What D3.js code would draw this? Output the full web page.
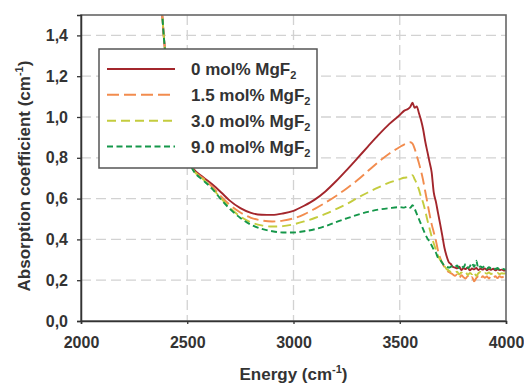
<!DOCTYPE html>
<html><head><meta charset="utf-8">
<script src="https://cdn.jsdelivr.net/npm/d3@7"></script>
<style>
html,body{margin:0;padding:0;background:#fff;}
svg{display:block;font-family:"Liberation Sans",Arial,sans-serif;}
</style></head>
<body>
<svg id="c" width="524" height="383"></svg>
<script>
// ---- data ----
const energy = [2370,2380,2390,2400,2420,2440,2460,2480,2500,2530,2575,2620,2660,2700,2750,2800,2850,2900,2950,3000,3050,3100,3150,3200,3250,3300,3350,3400,3450,3500,3520,3540,3550,3560,3570,3580,3590,3600,3610,3620,3630,3640,3650,3660,3670,3680,3690,3700,3710,3720,3730,3740,3750,3760,3770,3780,3790,3800,3810,3820,3830,3840,3850,3860,3870,3880,3890,3900,3910,3920,3930,3940,3950,3960,3970,3980,3990,4000];

const mg0 = [1.62,1.53,1.39,1.28,1.12,1.00,0.92,0.855,0.80,0.745,0.705,0.668,0.63,0.59,0.553,0.53,0.521,0.52,0.527,0.54,0.565,0.595,0.635,0.685,0.74,0.797,0.855,0.912,0.965,1.01,1.03,1.04,1.05,1.07,1.045,1.052,1.02,0.985,0.94,0.88,0.83,0.78,0.73,0.63,0.585,0.53,0.476,0.42,0.36,0.32,0.29,0.28,0.265,
  0.262,0.258,0.266,0.25,0.259,0.255,0.262,0.248,0.257,0.253,0.26,0.25,0.256,0.252,0.258,0.249,0.255,0.251,0.256,0.248,0.253,0.25,0.252,0.247,0.25];

const mg15 = [1.62,1.53,1.39,1.28,1.12,1.00,0.92,0.855,0.80,0.74,0.70,0.655,0.61,0.57,0.532,0.506,0.493,0.488,0.492,0.503,0.523,0.55,0.58,0.613,0.65,0.69,0.735,0.78,0.82,0.853,0.865,0.873,0.876,0.87,0.845,0.81,0.775,0.735,0.69,0.635,0.58,0.525,0.475,0.435,0.395,0.345,0.31,0.285,0.265,0.25,0.24,0.235,0.228,
  0.222,0.228,0.21,0.224,0.215,0.208,0.22,0.205,0.215,0.195,0.21,0.218,0.205,0.22,0.212,0.218,0.208,0.222,0.214,0.219,0.21,0.22,0.214,0.218,0.22];

const mg30 = [1.62,1.53,1.39,1.28,1.12,1.00,0.92,0.855,0.80,0.738,0.695,0.648,0.60,0.556,0.512,0.484,0.469,0.463,0.465,0.474,0.488,0.505,0.525,0.548,0.573,0.603,0.63,0.655,0.678,0.695,0.702,0.705,0.708,0.715,0.695,0.673,0.645,0.61,0.58,0.54,0.495,0.455,0.415,0.38,0.35,0.32,0.30,0.285,0.27,0.255,0.248,0.24,0.238,
  0.236,0.242,0.228,0.238,0.232,0.24,0.225,0.236,0.23,0.242,0.22,0.234,0.24,0.23,0.236,0.232,0.238,0.23,0.235,0.232,0.236,0.23,0.234,0.232,0.235];

const mg90 = [1.62,1.53,1.39,1.28,1.12,1.00,0.92,0.855,0.80,0.735,0.69,0.645,0.595,0.55,0.505,0.472,0.452,0.44,0.434,0.434,0.44,0.45,0.465,0.485,0.503,0.52,0.535,0.546,0.553,0.558,0.556,0.562,0.555,0.568,0.55,0.525,0.50,0.475,0.45,0.425,0.405,0.39,0.37,0.35,0.335,0.31,0.30,0.285,0.272,0.268,0.262,0.265,0.27,
  0.265,0.272,0.258,0.27,0.262,0.28,0.26,0.268,0.285,0.265,0.295,0.258,0.268,0.262,0.27,0.256,0.264,0.258,0.262,0.255,0.26,0.252,0.257,0.254,0.252];

const seriesNames = ["0 mol% MgF", "1.5 mol% MgF", "3.0 mol% MgF", "9.0 mol% MgF"];
const seriesColors = ["#a3262c", "#f28c4e", "#c4cc3e", "#15974a"];
const seriesDash = [null, "12,5", "9,5", "6,3.5"];
const seriesValues = [mg0, mg15, mg30, mg90];

const xTicks = [2000, 2500, 3000, 3500, 4000];
const yTicks = [0, 0.2, 0.4, 0.6, 0.8, 1.0, 1.2, 1.4];

// ---- layout ----
const L = 81, R = 506, T = 15, B = 321;
const svg = d3.select("#c");
const x = d3.scaleLinear().domain([2000, 4000]).range([L, R]);
const y = d3.scaleLinear().domain([0, 1.5]).range([B, T]);
const txt = "#333";

// grid
svg.append("g").selectAll("line").data(yTicks.filter(d => d > 0)).join("line")
  .attr("x1", L).attr("x2", R).attr("y1", d => y(d)).attr("y2", d => y(d))
  .attr("stroke", "#d2d2d2").attr("stroke-width", 1.3).attr("stroke-dasharray", "10,5");
svg.append("g").selectAll("line").data(xTicks.filter(d => d > 2000 && d < 4000)).join("line")
  .attr("y1", T).attr("y2", B).attr("x1", d => x(d)).attr("x2", d => x(d))
  .attr("stroke", "#d2d2d2").attr("stroke-width", 1.3).attr("stroke-dasharray", "10,5");

// clip
svg.append("clipPath").attr("id", "clip").append("rect")
  .attr("x", L).attr("y", T).attr("width", R - L).attr("height", B - T);

const line = d3.line().x((d, i) => x(energy[i])).y(d => y(d)).curve(d3.curveMonotoneX);
const lines = svg.append("g").attr("clip-path", "url(#clip)");
[0, 1, 2, 3].forEach(k => {
  lines.append("path").datum(seriesValues[k])
    .attr("d", line).attr("fill", "none")
    .attr("stroke", seriesColors[k]).attr("stroke-width", 1.9)
    .attr("stroke-dasharray", seriesDash[k]);
});

// frame
svg.append("rect").attr("x", L).attr("y", T).attr("width", R - L).attr("height", B - T)
  .attr("fill", "none").attr("stroke", "#666").attr("stroke-width", 1.6);

// axes
const fmt = d => d3.format(".1f")(d).replace(".", ",");
const yAxis = svg.append("g").attr("transform", `translate(${L},0)`)
  .call(d3.axisLeft(y).tickValues(yTicks).tickFormat(fmt).tickSize(4).tickPadding(9));
const xAxis = svg.append("g").attr("transform", `translate(0,${B})`)
  .call(d3.axisBottom(x).tickValues(xTicks).tickFormat(d3.format("d")).tickSize(3).tickPadding(13));
[yAxis, xAxis].forEach(a => {
  a.select(".domain").attr("stroke", "#333").attr("stroke-width", 1.5);
  a.selectAll(".tick line").attr("stroke", "#333").attr("stroke-width", 1.3);
  a.selectAll("text").attr("fill", txt).attr("font-size", 16).attr("font-weight", "bold")
    .attr("font-family", "Liberation Sans, Arial, sans-serif");
});

// axis titles
const xt = svg.append("text").attr("x", (L + R) / 2).attr("y", 380).attr("text-anchor", "middle")
  .attr("fill", txt).attr("font-size", 17).attr("font-weight", "bold");
xt.append("tspan").text("Energy (cm");
xt.append("tspan").attr("font-size", 11).attr("dy", -7).text("-1");
xt.append("tspan").attr("dy", 7).text(")");

const yt = svg.append("text").attr("transform", "translate(30,176) rotate(-90)").attr("text-anchor", "middle")
  .attr("fill", txt).attr("font-size", 17).attr("font-weight", "bold");
yt.append("tspan").text("Absorption coefficient (cm");
yt.append("tspan").attr("font-size", 11).attr("dy", -7).text("-1");
yt.append("tspan").attr("dy", 7).text(")");

// legend
const lg = svg.append("g");
lg.append("rect").attr("x", 99).attr("y", 49).attr("width", 218).attr("height", 119)
  .attr("fill", "#fff").attr("stroke", "#555").attr("stroke-width", 1.5);
const rowY = d3.scaleLinear().domain([0, 3]).range([69, 146.5]);
seriesNames.forEach((name, k) => {
  const yy = rowY(k);
  lg.append("line").attr("x1", 107).attr("x2", 175).attr("y1", yy).attr("y2", yy)
    .attr("stroke", seriesColors[k]).attr("stroke-width", 2).attr("stroke-dasharray", seriesDash[k]);
  const t = lg.append("text").attr("x", 191).attr("y", yy + 6)
    .attr("fill", txt).attr("font-size", 17).attr("font-weight", "bold");
  t.append("tspan").text(name);
  t.append("tspan").attr("font-size", 11).attr("dy", 4).text("2");
});
</script>
</body></html>
